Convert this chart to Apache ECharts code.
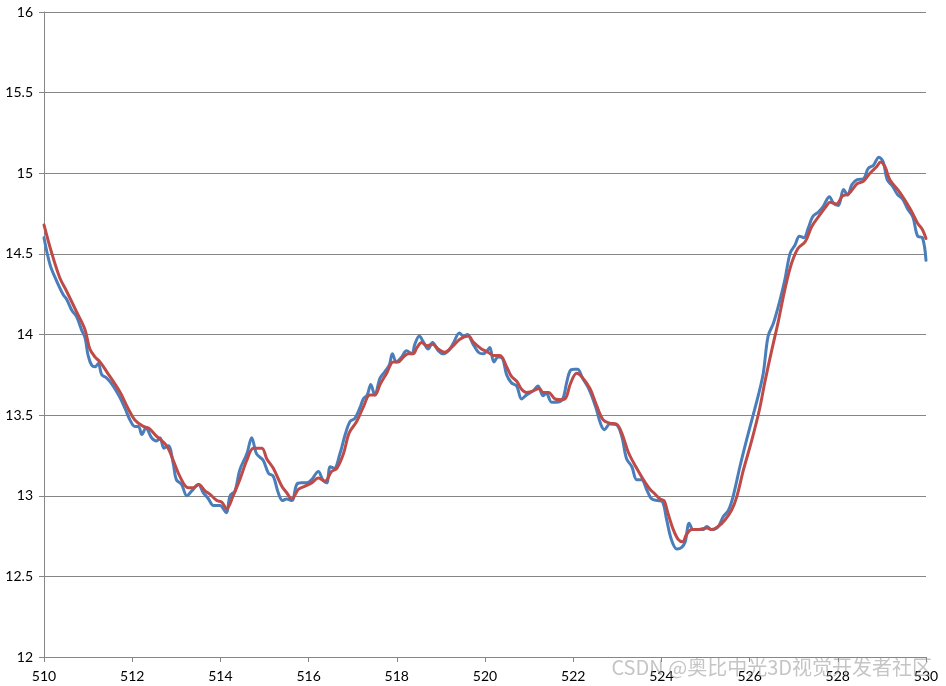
<!DOCTYPE html>
<html>
<head>
<meta charset="utf-8">
<script src="https://cdn.jsdelivr.net/npm/echarts@6/dist/echarts.min.js"></script>
<style>
    html, body { margin: 0; padding: 0; background: #fff; }
    #chart { width: 946px; height: 686px; }
</style>
</head>
<body>
<div id="chart"></div>
<script>
// 原始数据 (蓝线)
var blueX = [510.00, 510.14, 510.29, 510.44, 510.51, 510.63, 510.74, 510.85, 510.93, 511.00, 511.08, 511.16, 511.23, 511.31, 511.42, 511.57, 511.72, 511.84, 511.95, 512.06, 512.14, 512.22, 512.31, 512.44, 512.55, 512.63, 512.72, 512.82, 512.93, 513.00, 513.12, 513.24, 513.35, 513.50, 513.61, 513.73, 513.84, 513.99, 514.13, 514.22, 514.33, 514.44, 514.60, 514.71, 514.82, 514.97, 515.09, 515.20, 515.31, 515.41, 515.50, 515.62, 515.73, 515.84, 515.96, 516.07, 516.22, 516.32, 516.41, 516.49, 516.58, 516.71, 516.83, 516.94, 517.05, 517.17, 517.24, 517.33, 517.41, 517.50, 517.62, 517.73, 517.83, 517.90, 517.99, 518.11, 518.22, 518.34, 518.41, 518.51, 518.60, 518.71, 518.81, 518.94, 519.05, 519.17, 519.28, 519.42, 519.51, 519.60, 519.72, 519.85, 519.96, 520.05, 520.11, 520.20, 520.30, 520.40, 520.49, 520.60, 520.72, 520.83, 520.94, 521.09, 521.20, 521.32, 521.39, 521.51, 521.62, 521.76, 521.85, 521.93, 522.02, 522.10, 522.21, 522.36, 522.51, 522.63, 522.71, 522.83, 522.98, 523.10, 523.21, 523.33, 523.44, 523.55, 523.67, 523.78, 523.93, 524.03, 524.12, 524.23, 524.35, 524.46, 524.54, 524.63, 524.72, 524.84, 524.95, 525.03, 525.14, 525.29, 525.40, 525.52, 525.63, 525.78, 525.93, 526.08, 526.20, 526.31, 526.42, 526.54, 526.69, 526.80, 526.92, 527.03, 527.13, 527.23, 527.33, 527.43, 527.56, 527.67, 527.81, 527.90, 528.01, 528.13, 528.22, 528.32, 528.44, 528.58, 528.69, 528.81, 528.93, 529.03, 529.12, 529.24, 529.35, 529.47, 529.58, 529.70, 529.81, 529.92, 530.00]
var blueY = [14.60, 14.43, 14.33, 14.245, 14.22, 14.15, 14.11, 14.03, 13.98, 13.87, 13.81, 13.80, 13.82, 13.75, 13.73, 13.68, 13.61, 13.54, 13.47, 13.43, 13.43, 13.38, 13.42, 13.36, 13.34, 13.36, 13.295, 13.31, 13.20, 13.10, 13.07, 13.00, 13.03, 13.07, 13.02, 12.98, 12.94, 12.94, 12.895, 13.00, 13.03, 13.16, 13.26, 13.36, 13.26, 13.22, 13.14, 13.12, 13.02, 12.97, 12.98, 12.97, 13.07, 13.08, 13.08, 13.10, 13.15, 13.10, 13.08, 13.18, 13.17, 13.26, 13.38, 13.46, 13.48, 13.55, 13.60, 13.625, 13.69, 13.625, 13.73, 13.77, 13.81, 13.88, 13.83, 13.86, 13.90, 13.88, 13.94, 13.99, 13.955, 13.91, 13.95, 13.90, 13.88, 13.90, 13.945, 14.01, 13.99, 14.00, 13.945, 13.89, 13.88, 13.90, 13.92, 13.83, 13.86, 13.85, 13.75, 13.70, 13.68, 13.60, 13.625, 13.65, 13.68, 13.62, 13.635, 13.58, 13.58, 13.60, 13.70, 13.775, 13.785, 13.785, 13.73, 13.66, 13.55, 13.44, 13.41, 13.445, 13.44, 13.37, 13.23, 13.18, 13.10, 13.10, 13.035, 12.98, 12.97, 12.96, 12.85, 12.725, 12.67, 12.68, 12.715, 12.83, 12.79, 12.79, 12.79, 12.81, 12.79, 12.81, 12.87, 12.91, 13.00, 13.18, 13.345, 13.50, 13.625, 13.76, 13.99, 14.07, 14.215, 14.34, 14.505, 14.555, 14.61, 14.60, 14.66, 14.73, 14.76, 14.795, 14.855, 14.815, 14.80, 14.90, 14.865, 14.93, 14.96, 14.965, 15.03, 15.05, 15.10, 15.07, 14.96, 14.92, 14.87, 14.84, 14.78, 14.73, 14.61, 14.60, 14.46]

// 滤波后数据 (红线)
var redX = [510.00, 510.17, 510.36, 510.51, 510.74, 510.93, 511.04, 511.16, 511.27, 511.42, 511.72, 511.91, 512.06, 512.25, 512.37, 512.55, 512.78, 512.93, 513.08, 513.27, 513.39, 513.51, 513.65, 513.76, 513.92, 514.03, 514.14, 514.29, 514.44, 514.60, 514.75, 514.94, 515.05, 515.20, 515.39, 515.50, 515.62, 515.77, 515.92, 516.07, 516.22, 516.37, 516.52, 516.64, 516.79, 516.92, 517.09, 517.24, 517.39, 517.50, 517.62, 517.77, 517.92, 518.03, 518.15, 518.26, 518.37, 518.46, 518.56, 518.69, 518.81, 518.94, 519.09, 519.24, 519.43, 519.62, 519.73, 519.92, 520.07, 520.19, 520.34, 520.49, 520.60, 520.72, 520.83, 520.94, 521.09, 521.23, 521.32, 521.44, 521.59, 521.74, 521.84, 521.93, 522.08, 522.19, 522.38, 522.53, 522.68, 522.83, 522.98, 523.10, 523.25, 523.44, 523.59, 523.74, 523.82, 523.97, 524.06, 524.15, 524.27, 524.38, 524.48, 524.57, 524.69, 524.84, 525.03, 525.14, 525.29, 525.44, 525.59, 525.71, 525.86, 526.05, 526.22, 526.35, 526.50, 526.65, 526.80, 526.95, 527.10, 527.26, 527.41, 527.60, 527.75, 527.82, 527.97, 528.11, 528.24, 528.44, 528.58, 528.73, 528.88, 528.97, 529.07, 529.18, 529.41, 529.64, 529.81, 529.92, 530.00]
var redY = [14.68, 14.51, 14.35, 14.27, 14.14, 14.03, 13.91, 13.86, 13.83, 13.77, 13.645, 13.54, 13.47, 13.43, 13.42, 13.37, 13.31, 13.22, 13.12, 13.05, 13.05, 13.07, 13.03, 13.01, 12.97, 12.96, 12.92, 13.00, 13.10, 13.22, 13.295, 13.295, 13.23, 13.17, 13.06, 13.02, 12.98, 13.04, 13.06, 13.08, 13.11, 13.09, 13.15, 13.17, 13.26, 13.39, 13.46, 13.55, 13.625, 13.625, 13.69, 13.76, 13.83, 13.83, 13.86, 13.88, 13.88, 13.92, 13.95, 13.93, 13.94, 13.91, 13.89, 13.92, 13.97, 13.99, 13.955, 13.91, 13.89, 13.87, 13.87, 13.80, 13.74, 13.71, 13.66, 13.64, 13.65, 13.665, 13.64, 13.64, 13.60, 13.595, 13.61, 13.69, 13.76, 13.74, 13.665, 13.56, 13.47, 13.45, 13.445, 13.39, 13.27, 13.17, 13.10, 13.04, 13.02, 12.98, 12.97, 12.89, 12.79, 12.73, 12.715, 12.76, 12.79, 12.79, 12.80, 12.79, 12.81, 12.85, 12.91, 12.995, 13.16, 13.345, 13.53, 13.71, 13.90, 14.08, 14.28, 14.44, 14.535, 14.575, 14.67, 14.745, 14.80, 14.82, 14.81, 14.86, 14.87, 14.935, 14.95, 15.00, 15.04, 15.07, 15.04, 14.96, 14.88, 14.78, 14.69, 14.65, 14.595]

function zip(xs, ys) {
    return xs.map(function (x, i) { return [x, ys[i]] })
}

var chart = echarts.init(document.getElementById('chart'))
var axisColor = '#868686'
var labelFont = 'Lato, "Open Sans", sans-serif'

var option = {
    animation: false,
    backgroundColor: '#fff',
    grid: { left: 44, right: 20, top: 12, bottom: 29 },
    xAxis: {
        type: 'value',
        min: 510,
        max: 530,
        interval: 2,
        axisLine: { show: true, onZero: false, lineStyle: { color: axisColor } },
        axisTick: { show: true, length: 5, lineStyle: { color: axisColor } },
        axisLabel: { color: '#000', fontSize: 14, fontFamily: labelFont, margin: 12 },
        splitLine: { show: false },
    },
    yAxis: {
        type: 'value',
        min: 12,
        max: 16,
        interval: 0.5,
        axisLine: { show: true, lineStyle: { color: axisColor } },
        axisTick: { show: true, length: 5, lineStyle: { color: axisColor } },
        axisLabel: { color: '#000', fontSize: 14, fontFamily: labelFont, margin: 11 },
        splitLine: { show: true, lineStyle: { color: axisColor, width: 1 } },
    },
    series: [
        {
            name: 'raw',
            type: 'line',
            data: zip(blueX, blueY),
            showSymbol: false,
            smooth: 0.35,
            lineStyle: { color: '#4A7EBB', width: 3, cap: 'round', join: 'round' },
            z: 2,
        },
        {
            name: 'filtered',
            type: 'line',
            data: zip(redX, redY),
            showSymbol: false,
            smooth: 0.35,
            lineStyle: { color: '#BE4B48', width: 3, cap: 'round', join: 'round' },
            z: 3,
        },
    ],
    graphic: [
        {
            type: 'text',
            x: 932,
            y: 667,
            z: 100,
            style: {
                text: 'CSDN @奥比中光3D视觉开发者社区',
                fill: 'rgba(140,140,140,0.5)',
                font: '20px "Noto Sans CJK SC"',
                align: 'right',
                verticalAlign: 'middle',
            },
        },
    ],
}
option && chart.setOption(option)
</script>
</body>
</html>
